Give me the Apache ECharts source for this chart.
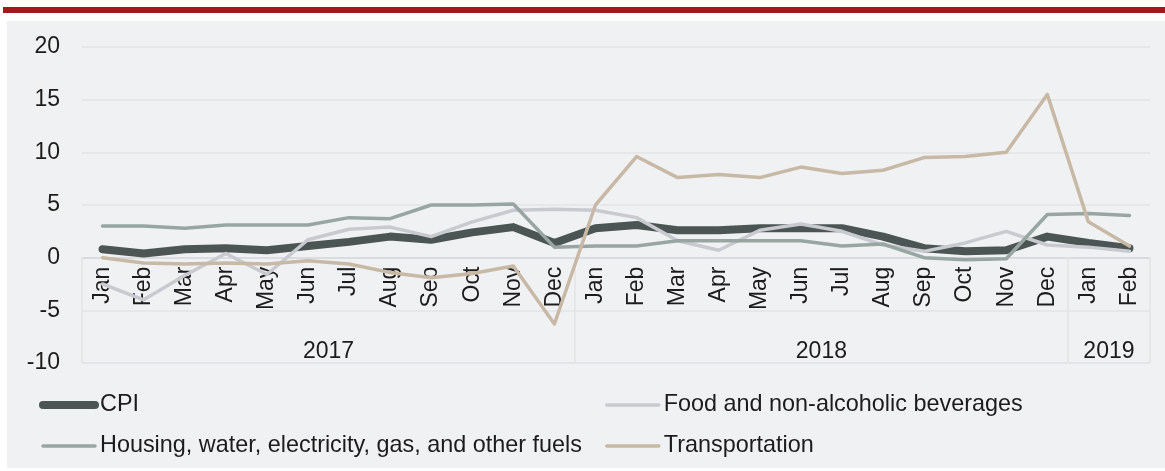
<!DOCTYPE html>
<html>
<head>
<meta charset="utf-8">
<script src="https://cdn.jsdelivr.net/npm/echarts@6/dist/echarts.min.js"></script>
<style>
html,body{margin:0;padding:0;background:#fff;}
#main{width:1165px;height:471px;}
</style>
</head>
<body>
<div id="main"></div>
<script>
// month labels, 2017-01 .. 2019-02
var months = ['Jan','Feb','Mar','Apr','May','Jun','Jul','Aug','Sep','Oct','Nov','Dec',
              'Jan','Feb','Mar','Apr','May','Jun','Jul','Aug','Sep','Oct','Nov','Dec',
              'Jan','Feb'];
var years = ['2017','2018','2019'];
var yearSpans = [12, 12, 2];

var cpi       = [0.8, 0.4, 0.8, 0.9, 0.7, 1.1, 1.5, 2.0, 1.7, 2.4, 2.9, 1.4,
                 2.8, 3.1, 2.6, 2.6, 2.8, 2.8, 2.8, 2.0, 0.9, 0.6, 0.7, 2.0,
                 1.4, 0.9];
var food      = [-2.5, -4.0, -1.7, 0.4, -1.6, 1.7, 2.7, 2.9, 2.0, 3.4, 4.5, 4.6,
                 4.5, 3.8, 1.6, 0.7, 2.6, 3.2, 2.5, 1.2, 0.6, 1.4, 2.5, 1.2,
                 1.0, 0.6];
var housing   = [3.0, 3.0, 2.8, 3.1, 3.1, 3.1, 3.8, 3.7, 5.0, 5.0, 5.1, 1.0,
                 1.1, 1.1, 1.6, 1.6, 1.6, 1.6, 1.1, 1.3, 0.0, -0.2, -0.1, 4.1,
                 4.2, 4.0];
var transport = [0.0, -0.5, -0.6, -0.5, -0.6, -0.3, -0.6, -1.4, -1.9, -1.5, -0.8, -6.3,
                 5.0, 9.6, 7.6, 7.9, 7.6, 8.6, 8.0, 8.3, 9.5, 9.6, 10.0, 15.5,
                 3.4, 1.1];

var yMin = -10, yMax = 20, yStep = 5;

var names = ['CPI', 'Food and non-alcoholic beverages',
             'Housing, water, electricity, gas, and other fuels', 'Transportation'];
var colors = ['#4b5554', '#c8cad0', '#98a6a2', '#c7b9a6'];
var widths = [8, 3.5, 3.5, 3.5];

// year group boundaries and label centres (in month units)
var bounds = [0], centres = [];
var acc = 0;
for (var i = 0; i < yearSpans.length; i++) {
    centres.push(acc + yearSpans[i] / 2);
    acc += yearSpans[i];
    bounds.push(acc);
}

var chart = echarts.init(document.getElementById('main'));
var font = 'Liberation Sans';
var txt = '#1c1c1c';
var gridCol = '#e2e3e6';

var gridTop = 47, gridBottom = 108;
var plotH = 471 - gridTop - gridBottom;
// distance of the zero line above the bottom of the plot
var zeroUp = (0 - yMin) / (yMax - yMin) * plotH;

function legendItem(k) {
    return {
        name: names[k],
        lineStyle: {width: widths[k], cap: 'round'},
        itemStyle: {color: 'rgba(0,0,0,0)', borderWidth: 0}
    };
}
var legendBase = {
    orient: 'vertical', top: 387, itemWidth: 52, itemHeight: 14, itemGap: 15,
    selectedMode: false,
    textStyle: {fontFamily: font, fontSize: 23.4, color: txt, lineHeight: 26}
};

var option = {
    backgroundColor: '#fff',
    animation: false,
    graphic: [
        {type: 'rect', shape: {x: 7, y: 21, width: 1158, height: 447}, style: {fill: '#f0f1f3'}, z: -10},
        {type: 'rect', shape: {x: 3, y: 7, width: 1162, height: 6}, style: {fill: '#a3181b'}, z: -10}
    ],
    grid: {left: 82, right: 15, top: gridTop, bottom: gridBottom},
    legend: [
        echarts.util.merge({left: 34, data: [legendItem(0), legendItem(2)]}, legendBase),
        echarts.util.merge({left: 600, data: [legendItem(1), legendItem(3)]}, legendBase)
    ],
    xAxis: [{
        type: 'category',
        data: months,
        position: 'bottom',
        offset: -zeroUp,
        axisLine: {onZero: false, lineStyle: {color: '#d8d9dc', width: 1.5}},
        axisTick: {show: false},
        axisLabel: {interval: 0, rotate: 90, margin: 9, fontFamily: font, fontSize: 23, color: txt}
    }, {
        type: 'value',
        min: 0, max: acc,
        position: 'bottom',
        axisLine: {onZero: false, show: true, lineStyle: {color: gridCol, width: 1.5}},
        splitLine: {show: false},
        axisTick: {show: true, inside: true, length: zeroUp, customValues: bounds,
                   lineStyle: {color: gridCol, width: 1.5}},
        axisLabel: {
            inside: true, margin: 0, customValues: centres,
            fontFamily: font, fontSize: 23, color: txt,
            formatter: function (v) {
                var idx = centres.indexOf(v);
                return idx >= 0 ? years[idx] : '';
            }
        }
    }],
    yAxis: {
        type: 'value',
        min: yMin, max: yMax, interval: yStep,
        axisLine: {show: false, onZero: false},
        axisTick: {show: false},
        splitLine: {lineStyle: {color: gridCol, width: 1.5}},
        axisLabel: {margin: 22, fontFamily: font, fontSize: 23, color: txt}
    },
    series: [cpi, food, housing, transport].map(function (d, k) {
        return {
            name: names[k],
            type: 'line',
            data: d,
            symbol: 'none',
            xAxisIndex: 0,
            lineStyle: {color: colors[k], width: widths[k], cap: 'round', join: 'round'},
            itemStyle: {color: colors[k]}
        };
    })
};
chart.setOption(option);
</script>
</body>
</html>
